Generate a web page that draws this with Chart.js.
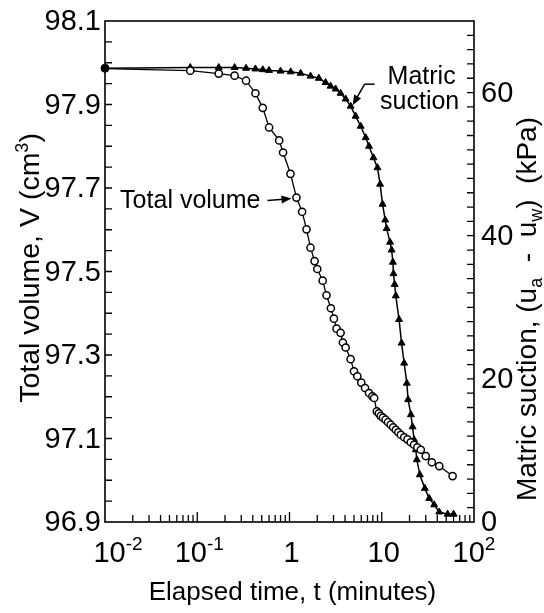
<!DOCTYPE html>
<html>
<head>
<meta charset="utf-8">
<script src="https://cdn.jsdelivr.net/npm/chart.js@4.4.0/dist/chart.umd.min.js"></script>
<style>
  body { margin: 0; background: #fff; }
  canvas { display: block; }
</style>
</head>
<body>
<canvas id="myChart" width="544" height="613"></canvas>
<script>
// total volume (open circles, left axis)
const volTime = [0.01, 0.084, 0.171, 0.254, 0.338, 0.427, 0.513, 0.601, 0.773, 0.852,
  1.025, 1.19, 1.37, 1.53, 1.69, 1.87, 2.0, 2.29, 2.52, 2.81,
  3.03, 3.24, 3.58, 3.79, 4.06, 4.6, 5.0, 5.44, 6.0, 6.59,
  7.28, 7.91, 8.28, 8.84, 9.3, 9.75, 10.3, 11.0, 11.7, 12.5,
  13.3, 14.2, 15.1, 16.1, 17.5, 19.0, 20.6, 22.4, 24.3, 26.5,
  30.0, 34.9, 42.0, 58.6];
const volValue = [97.986, 97.981, 97.974, 97.969, 97.957, 97.927, 97.892, 97.845, 97.814, 97.785,
  97.734, 97.677, 97.643, 97.601, 97.557, 97.525, 97.506, 97.478, 97.443, 97.412,
  97.387, 97.363, 97.353, 97.330, 97.318, 97.290, 97.261, 97.249, 97.234, 97.221,
  97.209, 97.201, 97.197, 97.165, 97.160, 97.154, 97.150, 97.145, 97.139, 97.133,
  97.127, 97.121, 97.115, 97.109, 97.103, 97.098, 97.091, 97.085, 97.079, 97.073,
  97.058, 97.043, 97.034, 97.010];

// matric suction (solid triangles, right axis)
const sucTime = [0.01, 0.084, 0.171, 0.254, 0.338, 0.427, 0.513, 0.60,
  0.80, 1.03, 1.32, 1.69, 2.08, 2.46, 2.79, 3.16, 3.58, 4.06,
  4.6, 5.21, 5.91, 6.70, 7.28, 8.13, 8.98, 9.6,
  10.2, 10.9, 11.3, 12.3, 12.8, 13.2, 13.4, 13.8, 14.2,
  15.4, 16.4, 17.5, 18.7, 19.3, 20.7, 21.6, 22.4, 23.4, 24.0,
  25.9, 29.3, 32.7, 37.0, 42.0, 51.8, 60.1];
const sucValue = [63.4, 63.5, 63.5, 63.5, 63.4, 63.3, 63.2, 63.1,
  63.0, 62.9, 62.7, 62.3, 62.0, 61.4, 60.9, 60.5, 59.9, 59.1,
  58.1, 56.7, 55.3, 53.7, 52.5, 50.9, 49.5, 47.2,
  44.4, 42.2, 41.0, 39.1, 38.0, 36.3, 34.7, 33.2, 31.6,
  28.3, 25.0, 22.2, 19.4, 17.1, 15.0, 13.3, 11.5, 10.1, 8.7,
  6.6, 4.7, 3.3, 2.4, 1.4, 1.1, 1.1];

// tick labels
const xDecades = [-2, -1, 0, 1, 2];
const leftLabels = [96.9, 97.1, 97.3, 97.5, 97.7, 97.9, 98.1];
const rightLabels = [0, 20, 40, 60];

const FONT = '"Liberation Sans", Arial, Helvetica, sans-serif';

// draws text made of pieces [text, size, yShift] centred on (cx, baseline cy)
function drawRich(ctx, parts, cx, cy, angle) {
    ctx.save();
    ctx.translate(cx, cy);
    ctx.rotate(angle || 0);
    ctx.textAlign = 'left';
    ctx.textBaseline = 'alphabetic';
    let total = 0;
    const widths = parts.map(p => {
        ctx.font = p[1] + 'px ' + FONT;
        const w = ctx.measureText(p[0]).width;
        total += w;
        return w;
    });
    let xx = -total / 2;
    parts.forEach((p, i) => {
        ctx.font = p[1] + 'px ' + FONT;
        ctx.fillText(p[0], xx, p[2]);
        xx += widths[i];
    });
    ctx.restore();
}

function arrow(ctx, x1, y1, x2, y2) {
    const ang = Math.atan2(y2 - y1, x2 - x1);
    const hl = 10, hw = 4;
    ctx.beginPath();
    ctx.moveTo(x1, y1);
    ctx.lineTo(x2 - Math.cos(ang) * hl * 0.8, y2 - Math.sin(ang) * hl * 0.8);
    ctx.stroke();
    ctx.beginPath();
    ctx.moveTo(x2, y2);
    ctx.lineTo(x2 - Math.cos(ang) * hl - Math.sin(ang) * hw, y2 - Math.sin(ang) * hl + Math.cos(ang) * hw);
    ctx.lineTo(x2 - Math.cos(ang) * hl + Math.sin(ang) * hw, y2 - Math.sin(ang) * hl - Math.cos(ang) * hw);
    ctx.closePath();
    ctx.fill();
}

const paperAxes = {
    id: 'paperAxes',
    afterDraw: (chart) => {
        const {ctx, chartArea: a} = chart;
        const x = chart.scales.x, y = chart.scales.y, y2 = chart.scales.y2;
        ctx.save();
        ctx.strokeStyle = '#000';
        ctx.fillStyle = '#000';

        // frame
        ctx.lineWidth = 1.6;
        ctx.strokeRect(a.left, a.top, a.right - a.left, a.bottom - a.top);

        // inward ticks
        ctx.lineWidth = 1.3;
        ctx.beginPath();
        for (let d = -2; d < 2; d++) {
            for (let m = 1; m <= 9; m++) {
                const v = m * Math.pow(10, d);
                if (m === 1 && d === -2) continue;
                const px = x.getPixelForValue(v);
                const len = m === 1 ? 10 : 7;
                ctx.moveTo(px, a.bottom);
                ctx.lineTo(px, a.bottom - len);
            }
        }
        for (let k = 1; k < 24; k++) {
            const py = y.getPixelForValue(96.9 + k * 0.05);
            ctx.moveTo(a.left, py);
            ctx.lineTo(a.left + 7, py);
        }
        for (let s = 2; s < 70; s += 2) {
            const py = y2.getPixelForValue(s);
            ctx.moveTo(a.right, py);
            ctx.lineTo(a.right - 7, py);
        }
        ctx.stroke();

        // tick labels
        ctx.font = '29px ' + FONT;
        ctx.textBaseline = 'middle';
        ctx.textAlign = 'right';
        leftLabels.forEach(v => {
            ctx.fillText(v.toFixed(1), a.left - 4, y.getPixelForValue(v) + 1);
        });
        ctx.textAlign = 'left';
        rightLabels.forEach(v => {
            ctx.fillText(String(v), a.right + 7, y2.getPixelForValue(v) + 1);
        });
        xDecades.forEach(e => {
            const px = x.getPixelForValue(Math.pow(10, e));
            let parts;
            if (e === 0) parts = [['1', 29, 0]];
            else if (e === 1) parts = [['10', 29, 0]];
            else parts = [['10', 29, 0], [String(e), 19, -12]];
            const shift = e === -2 ? 13 : (e === 2 ? 0 : 2);
            drawRich(ctx, parts, px + shift, a.bottom + 40, 0);
        });

        // axis titles
        drawRich(ctx, [['Elapsed time, t (minutes)', 26, 0]], (a.left + a.right) / 2 + 3, 600, 0);
        drawRich(ctx, [['Total volume, V (cm', 28.5, 0], ['3', 18, -11], [')', 28.5, 0]],
            39, 268, -Math.PI / 2);
        drawRich(ctx, [['Matric suction, (u', 28, 0], ['a', 18, 6], ['  -  u', 28, 0], ['w', 18, 6], [')  (kPa)', 28, 0]],
            536, 309, -Math.PI / 2);

        // annotations
        ctx.lineWidth = 1.5;
        const tvx = x.getPixelForValue(1.19) - 5, tvy = y.getPixelForValue(97.677) + 1;
        ctx.font = '25px ' + FONT;
        ctx.textAlign = 'right';
        ctx.textBaseline = 'middle';
        ctx.fillText('Total volume', tvx - 31, tvy + 3);
        arrow(ctx, tvx - 24, tvy + 2, tvx, tvy);

        const msx = x.getPixelForValue(4.6) + 2, msy = y2.getPixelForValue(58.1) - 1;
        ctx.textAlign = 'center';
        ctx.fillText('Matric', msx + 69, msy - 28);
        ctx.fillText('suction', msx + 67, msy - 3);
        ctx.beginPath();
        ctx.moveTo(msx + 22, msy - 21);
        ctx.lineTo(msx + 12, msy - 21);
        ctx.stroke();
        arrow(ctx, msx + 12, msy - 21, msx, msy);
        ctx.restore();
    }
};

new Chart(document.getElementById('myChart'), {
    type: 'line',
    data: {
        datasets: [{
            label: 'Total volume',
            data: volTime.map((t, i) => ({x: t, y: volValue[i]})),
            yAxisID: 'y',
            borderColor: '#000',
            borderWidth: 1.3,
            pointStyle: 'circle',
            pointRadius: volTime.map((t, i) => i === 0 ? 0 : 3.6),
            pointBackgroundColor: '#fff',
            pointBorderColor: '#000',
            pointBorderWidth: 1.5,
            clip: false
        }, {
            label: 'Matric suction',
            data: sucTime.map((t, i) => ({x: t, y: sucValue[i]})),
            yAxisID: 'y2',
            borderColor: '#000',
            borderWidth: 1.5,
            pointStyle: sucTime.map((t, i) => i === 0 ? 'circle' : 'triangle'),
            pointRadius: 4,
            pointBackgroundColor: '#000',
            pointBorderColor: '#000',
            pointBorderWidth: 1,
            clip: false
        }]
    },
    options: {
        responsive: false,
        animation: false,
        layout: {padding: {left: 105, right: 70, top: 21, bottom: 91}},
        plugins: {
            legend: {display: false},
            tooltip: {enabled: false}
        },
        scales: {
            x: {type: 'logarithmic', min: 0.01, max: 100, display: false},
            y: {min: 96.9, max: 98.1, display: false},
            y2: {position: 'right', min: 0, max: 70, display: false}
        }
    },
    plugins: [paperAxes]
});
</script>
</body>
</html>
